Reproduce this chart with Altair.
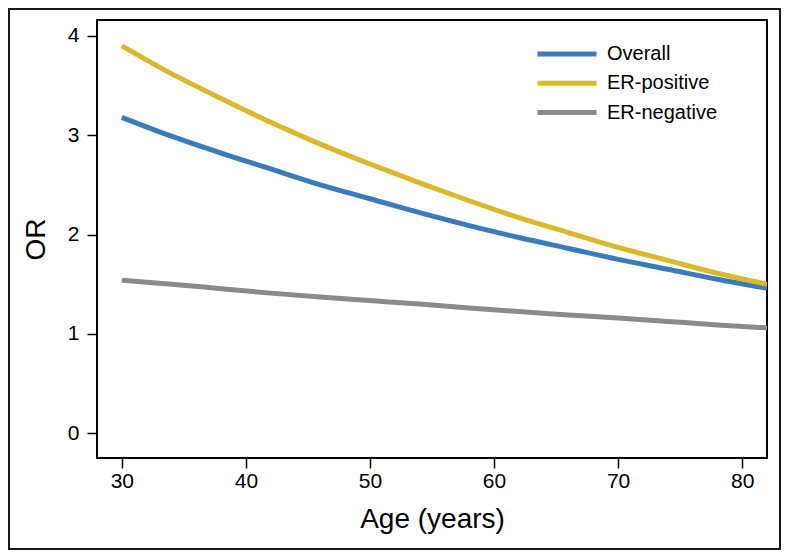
import altair as alt
import pandas as pd

# ---- data ----
ages = [30, 34, 38, 42, 46, 50, 54, 58, 62, 66, 70, 74, 78, 82]
overall = [3.18, 2.99, 2.82, 2.66, 2.50, 2.36, 2.22, 2.09, 1.97, 1.86, 1.75, 1.65, 1.55, 1.46]
er_positive = [3.90, 3.62, 3.37, 3.13, 2.91, 2.71, 2.52, 2.34, 2.17, 2.02, 1.87, 1.74, 1.61, 1.50]
er_negative = [1.54, 1.50, 1.455, 1.41, 1.37, 1.335, 1.30, 1.26, 1.225, 1.19, 1.16, 1.125, 1.09, 1.06]
series = ["Overall", "ER-positive", "ER-negative"]
colors = ["#3a7abf", "#dbb72a", "#8a8a8a"]
x_ticks = [30, 40, 50, 60, 70, 80]
y_ticks = [0, 1, 2, 3, 4]

values_by_series = {"Overall": overall, "ER-positive": er_positive, "ER-negative": er_negative}
rows = []
for s in series:
    for a, v in zip(ages, values_by_series[s]):
        rows.append({"age": a, "OR": v, "group": s})
df = pd.DataFrame(rows)

FONT = "Liberation Sans"

x_enc = alt.X(
    "age:Q",
    scale=alt.Scale(domain=[28, 82], nice=False, zero=False),
    axis=alt.Axis(
        values=x_ticks, title="Age (years)", domain=False, grid=False,
        tickSize=10, tickWidth=1.5, tickColor="black",
        labelFontSize=21, labelPadding=2, labelColor="black", labelFlush=False,
        titleFontSize=28, titleFontWeight="normal", titleColor="black",
        titleY=69, titleBaseline="alphabetic",
    ),
)
y_enc = alt.Y(
    "OR:Q",
    scale=alt.Scale(domain=[-0.25, 4.16], nice=False, zero=False),
    axis=alt.Axis(
        values=y_ticks, title="OR", domain=False, grid=False,
        tickSize=10, tickWidth=1.5, tickColor="black",
        labelFontSize=21, labelPadding=8, labelColor="black", labelFlush=False,
        titleFontSize=28, titleFontWeight="normal", titleColor="black",
        titleX=-61, titleY=219, titleBaseline="middle", titleAngle=270,
    ),
)
color_enc = alt.Color(
    "group:N",
    scale=alt.Scale(domain=series, range=colors),
    sort=series,
    legend=alt.Legend(
        title=None, orient="none", legendX=460, legendY=24,
        symbolType="M-6,0H6", symbolSize=97, symbolStrokeWidth=5,
        symbolFillColor="transparent",
        labelFontSize=20, labelColor="black", labelOffset=30,
        rowPadding=9.3, padding=0,
    ),
)

layers = []
for s in series:
    layers.append(
        alt.Chart(df)
        .transform_filter(alt.datum.group == s)
        .mark_line(strokeWidth=5, interpolate="monotone", clip=True)
        .encode(x=x_enc, y=y_enc, color=color_enc)
    )

border = alt.Chart(alt.Data(values=[{}])).mark_rect(
    filled=False, stroke="#1a1a1a", strokeWidth=2
).encode(
    x=alt.value(-88), x2=alt.value(683), y=alt.value(-11), y2=alt.value(529)
)

chart = (
    alt.layer(*layers, border)
    .properties(
        width=670, height=438,
        autosize=alt.AutoSizeParams(type="none"),
        padding={"left": 89, "top": 12, "right": 14, "bottom": 92},
    )
    .configure(font=FONT)
    .configure_view(stroke="black", strokeWidth=2)
)

chart.save("out.html", embed_options={"renderer": "svg", "actions": False})
